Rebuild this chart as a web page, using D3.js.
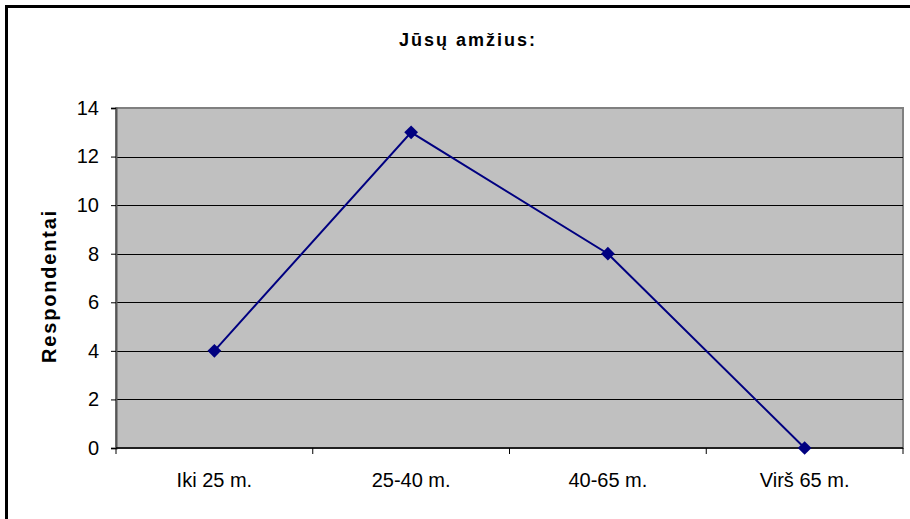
<!DOCTYPE html>
<html lang="lt">
<head>
<meta charset="UTF-8">
<script src="https://d3js.org/d3.v7.min.js"></script>
<style>
  body { margin: 0; background: #fff; }
  svg { display: block; font-family: "Liberation Sans", Arial, sans-serif; }
</style>
</head>
<body>
<svg id="chart" width="910" height="519"></svg>
<script>
const categories = ["Iki 25 m.", "25-40 m.", "40-65 m.", "Virš 65 m."];
const values = [4, 13, 8, 0];
const yTicks = [0, 2, 4, 6, 8, 10, 12, 14];

const svg = d3.select("#chart");
const W = 910, H = 519;
const plot = { left: 116, top: 108, right: 903, bottom: 448 };

// outer frame (runs off the right and bottom edges)
svg.append("rect")
  .attr("x", 6.5).attr("y", 6.5)
  .attr("width", W + 20).attr("height", H + 20)
  .attr("fill", "#fff").attr("stroke", "#000").attr("stroke-width", 3);

const x = d3.scaleBand().domain(categories).range([plot.left, plot.right]);
const y = d3.scaleLinear().domain([0, 14]).range([plot.bottom, plot.top]);

// plot background
svg.append("rect")
  .attr("x", plot.left).attr("y", plot.top)
  .attr("width", plot.right - plot.left).attr("height", plot.bottom - plot.top)
  .attr("fill", "#c0c0c0").attr("stroke", "#808080").attr("stroke-width", 2);

// gridlines
svg.append("g").selectAll("line").data(yTicks.filter(t => t > 0 && t < 14)).join("line")
  .attr("x1", plot.left).attr("x2", plot.right)
  .attr("y1", d => Math.round(y(d)) + 0.5).attr("y2", d => Math.round(y(d)) + 0.5)
  .attr("stroke", "#000").attr("stroke-width", 1);

// y axis
const yAxis = svg.append("g")
  .attr("transform", `translate(${plot.left},0)`)
  .call(d3.axisLeft(y).tickValues(yTicks).tickSize(5).tickPadding(12));
yAxis.select(".domain").attr("stroke", "#555").attr("stroke-width", 2);
yAxis.selectAll(".tick line").attr("stroke", "#000");
yAxis.selectAll("text").attr("font-size", 20).attr("fill", "#000")
  .attr("font-family", "Liberation Sans, Arial, sans-serif");

// x axis with ticks on category boundaries
const xAxis = svg.append("g").attr("transform", `translate(0,${plot.bottom})`);
xAxis.append("line")
  .attr("x1", plot.left).attr("x2", plot.right).attr("y1", 0).attr("y2", 0)
  .attr("stroke", "#000").attr("stroke-width", 1.5);
const bounds = categories.map(c => x(c)).concat([plot.right]);
xAxis.selectAll("line.tk").data(bounds).join("line").attr("class", "tk")
  .attr("x1", d => d).attr("x2", d => d).attr("y1", 0).attr("y2", 6)
  .attr("stroke", "#000");
xAxis.selectAll("text").data(categories).join("text")
  .attr("x", d => x(d) + x.bandwidth() / 2).attr("y", 39)
  .attr("text-anchor", "middle").attr("font-size", 20).attr("fill", "#000")
  .text(d => d);

// line + markers
const pts = categories.map((c, i) => [x(c) + x.bandwidth() / 2, y(values[i])]);
svg.append("path")
  .attr("d", d3.line()(pts))
  .attr("fill", "none").attr("stroke", "#000080").attr("stroke-width", 2);
svg.append("g").selectAll("path").data(pts).join("path")
  .attr("d", d3.symbol(d3.symbolDiamond2, 120))
  .attr("transform", d => `translate(${d[0]},${d[1]})`)
  .attr("fill", "#000080");

// title
svg.append("text")
  .attr("x", 468).attr("y", 46)
  .attr("text-anchor", "middle").attr("font-size", 18).attr("font-weight", "bold")
  .attr("letter-spacing", 2)
  .text("Jūsų amžius:");

// y label
svg.append("text")
  .attr("transform", "translate(56,286) rotate(-90)")
  .attr("text-anchor", "middle").attr("font-size", 20).attr("font-weight", "bold")
  .attr("letter-spacing", 1.8)
  .text("Respondentai");
</script>
</body>
</html>
